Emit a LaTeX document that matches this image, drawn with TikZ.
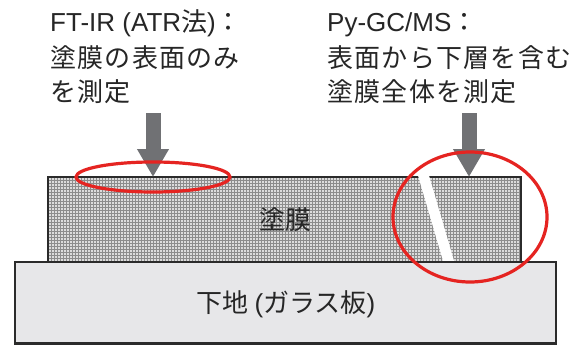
\documentclass[tikz,border=0pt]{standalone}
\usepackage{fontspec}
\setmainfont{Liberation Sans}
\newfontfamily\cjk{Noto Sans CJK JP}
\newfontfamily\cjks{Noto Sans CJK JP}[LetterSpace=5]
\usetikzlibrary{patterns,arrows.meta}
\definecolor{redc}{HTML}{E52421}
\definecolor{arrowgray}{HTML}{707174}
\definecolor{subfill}{HTML}{E7E7E9}
\definecolor{bordc}{HTML}{2B2B2B}
\definecolor{txtc}{HTML}{262626}
\definecolor{coatbg}{HTML}{DCDCDC}
\definecolor{coatln}{HTML}{8C8C8C}
\tikzset{
  lbl/.style={anchor=base west, inner sep=0pt, text=txtc, font=\fontsize{26}{31}\selectfont},
  ctr/.style={anchor=center, inner sep=0pt, text=txtc, font=\fontsize{26}{31}\selectfont},
  bigarrow/.style={draw=arrowgray, line width=15pt, -{Triangle[width=30pt,length=28pt]}, arrowgray},
  redline/.style={draw=redc, line width=3.2pt},
  boxline/.style={draw=bordc, line width=2.6pt}
}
\begin{document}
\begin{tikzpicture}[x=1pt,y=-1pt]
\useasboundingbox (0,0) rectangle (584,345);
\fill[white] (0,0) rectangle (584,345);
% substrate
\fill[subfill] (15,262) rectangle (556,343.7);
\draw[boxline] (15,262) rectangle (556,343.7);
% coating
\fill[coatbg] (48,177) rectangle (521,262);
\fill[pattern=grid, pattern color=coatln] (48,177) rectangle (521,262);
\draw[boxline] (48,177) rectangle (521,262);
% white crack stripe
\fill[white] (418,175.5) -- (429,175.5) -- (454,260.8) -- (443,260.8) -- cycle;
% labels
\node[lbl] (l1) at (50,32) {FT-IR (ATR{\cjk 法}){\cjk ：}};
\node[lbl] (l2) at (50,68) {\cjks 塗膜の表面のみ};
\node[lbl] (l3) at (50,101) {\cjks を測定};
\node[lbl] (r1) at (327,32) {Py-GC/MS{\cjk ：}};
\node[lbl] (r2) at (327,68) {\cjks 表面から下層を含む};
\node[lbl] (r3) at (327,101) {\cjks 塗膜全体を測定};
\node[ctr] (coat) at (285,220) {\cjk 塗膜};
\node[ctr] (sub) at (286,304) {\cjk 下地\ \normalfont(\cjk ガラス板\normalfont)};
% arrows
\coordinate (la1) at (153,113);
\coordinate (la2) at (153,177);
\coordinate (ra1) at (469,113);
\coordinate (ra2) at (469,177);
\draw[bigarrow] (la1) -- (la2);
\draw[bigarrow] (ra1) -- (ra2);
% red marks
\draw[redline] (153,177) ellipse [x radius=77pt, y radius=15pt];
\draw[redline] (470,217) ellipse [x radius=77pt, y radius=65pt];
\end{tikzpicture}
\end{document}
